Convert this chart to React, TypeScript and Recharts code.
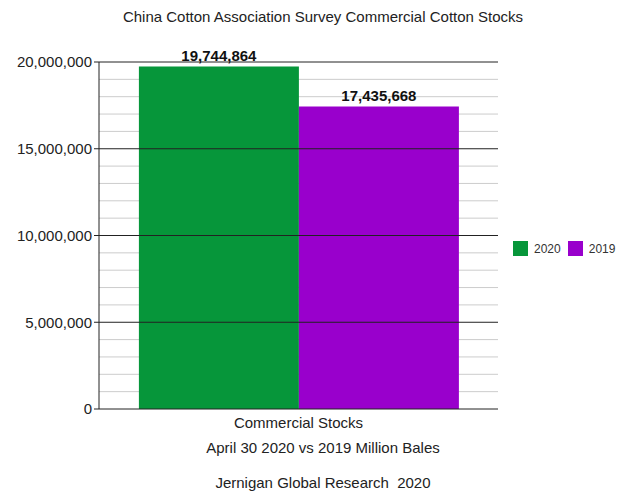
import React from 'react';
import {
  BarChart,
  Bar,
  XAxis,
  YAxis,
  CartesianGrid,
  ReferenceLine,
  LabelList,
} from 'recharts';

const categories = ['Commercial Stocks'];
const stocks2020 = [19744864];
const stocks2019 = [17435668];
const yTicks = [0, 5000000, 10000000, 15000000, 20000000];
const minorLines = [
  1000000, 2000000, 3000000, 4000000, 6000000, 7000000, 8000000, 9000000,
  11000000, 12000000, 13000000, 14000000, 16000000, 17000000, 18000000, 19000000,
];

const series = [
  { key: 'y2020', name: '2020', color: '#06963A' },
  { key: 'y2019', name: '2019', color: '#9900CC' },
];

const data = categories.map((name, i) => ({
  name,
  y2020: stocks2020[i],
  y2019: stocks2019[i],
}));

const font = '"Liberation Sans", Arial, sans-serif';
const fmt = (v: number) => Number(v).toLocaleString('en-US');

const centered = (top: number): React.CSSProperties => ({
  position: 'absolute',
  top,
  left: 0,
  width: 646,
  textAlign: 'center',
  fontSize: 15,
  color: '#222',
  lineHeight: '18px',
});

export default function App() {
  return (
    <div
      style={{
        position: 'absolute',
        left: 0,
        top: 0,
        width: 622,
        height: 491,
        background: '#fff',
        fontFamily: font,
      }}
    >
      <div style={centered(8)}>China Cotton Association Survey Commercial Cotton Stocks</div>
      <BarChart
        width={622}
        height={491}
        data={data}
        margin={{ top: 62, right: 124, bottom: 52, left: 0 }}
        barGap={0}
        barCategoryGap="10%"
      >
        <CartesianGrid
          vertical={false}
          horizontalValues={minorLines}
          stroke="#cccccc"
        />
        {yTicks.slice(1).map((t) => (
          <ReferenceLine key={t} y={t} stroke="#222" strokeWidth={1} />
        ))}
        {/* edge ticks of the category axis frame */}
        <XAxis
          xAxisId="frame"
          type="number"
          domain={[0, 1]}
          ticks={[0, 1]}
          height={0}
          tickSize={5}
          tickFormatter={() => ''}
          tickLine={{ stroke: '#222' }}
          axisLine={false}
        />
        <XAxis
          dataKey="name"
          height={30}
          tickLine={false}
          axisLine={{ stroke: '#222' }}
          tick={{ fill: '#222', fontSize: 15, fontFamily: font }}
        />
        <YAxis
          yAxisId={0}
          width={99}
          domain={[0, 20000000]}
          ticks={yTicks}
          tickFormatter={fmt}
          tickSize={5}
          tickLine={{ stroke: '#222' }}
          axisLine={{ stroke: '#222' }}
          tick={{ fill: '#222', fontSize: 15, fontFamily: font }}
          interval={0}
        />
        <YAxis
          yAxisId="right"
          orientation="right"
          width={0}
          domain={[0, 20000000]}
          tick={false}
          tickLine={false}
          axisLine={{ stroke: '#222' }}
        />
        {series.map((s) => (
          <Bar key={s.key} dataKey={s.key} name={s.name} fill={s.color} isAnimationActive={false}>
            <LabelList
              dataKey={s.key}
              position="top"
              formatter={fmt}
              style={{ fill: '#111', fontWeight: 'bold', fontSize: 15, fontFamily: font }}
            />
          </Bar>
        ))}
      </BarChart>
      <div
        style={{
          position: 'absolute',
          left: 513,
          top: 241,
          display: 'flex',
          alignItems: 'center',
          fontSize: 12,
          color: '#333',
        }}
      >
        {series.map((s) => (
          <div key={s.key} style={{ display: 'flex', alignItems: 'center', marginRight: 7 }}>
            <span style={{ width: 15, height: 15, background: s.color, display: 'inline-block', marginRight: 6 }} />
            <span>{s.name}</span>
          </div>
        ))}
      </div>
      <div style={centered(439)}>April 30 2020 vs 2019 Million Bales</div>
      <div style={centered(474)}>Jernigan Global Research&nbsp; 2020</div>
    </div>
  );
}
